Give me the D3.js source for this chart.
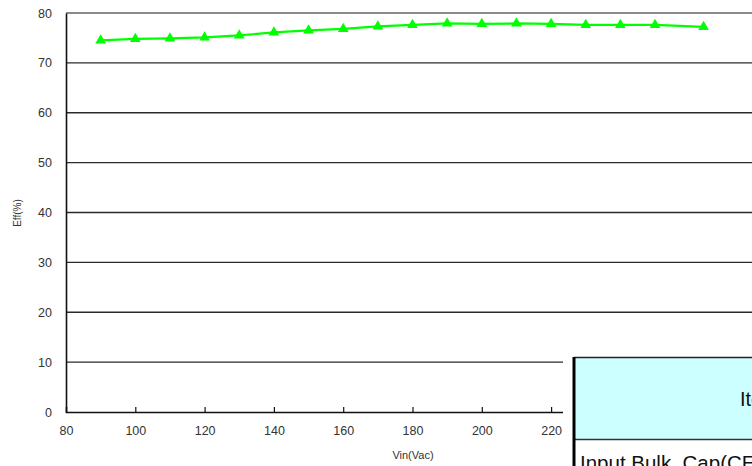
<!DOCTYPE html>
<html>
<head>
<meta charset="utf-8">
<script src="https://cdn.jsdelivr.net/npm/d3@7"></script>
<style>
  body { margin: 0; background: #fff; }
  svg { display: block; font-family: "Liberation Sans", Arial, sans-serif; }
</style>
</head>
<body>
<svg id="chart" width="752" height="466"></svg>
<script>
// input voltage (Vac) and efficiency (%)
var vin = [90, 100, 110, 120, 130, 140, 150, 160, 170, 180, 190, 200, 210, 220, 230, 240, 250, 264];
var eff = [74.5, 74.8, 74.9, 75.1, 75.5, 76.1, 76.5, 76.8, 77.3, 77.6, 77.9, 77.8, 77.9, 77.8, 77.6, 77.6, 77.6, 77.2];
var xTicks = [80, 100, 120, 140, 160, 180, 200, 220, 240, 260];
var yTicks = [0, 10, 20, 30, 40, 50, 60, 70, 80];
var tableHeader = 'Item';
var tableRow = 'Input Bulk  Cap(CE)';

var svg = d3.select("#chart");

var x = d3.scaleLinear().domain([80, 280]).range([66, 759]);
var y = d3.scaleLinear().domain([0, 80]).range([412, 13]);

// gridlines
svg.append("g")
    .selectAll("line")
    .data(yTicks.filter(function(d) { return d > 0 && d < 80; }))
    .enter().append("line")
    .attr("x1", 66).attr("x2", 752)
    .attr("y1", function(d) { return y(d); })
    .attr("y2", function(d) { return y(d); })
    .attr("stroke", "#2a2a2a").attr("stroke-width", 1.4);

// top border of plot
svg.append("line")
    .attr("x1", 66).attr("x2", 752)
    .attr("y1", y(80)).attr("y2", y(80))
    .attr("stroke", "#8a8a8a").attr("stroke-width", 2);

// x axis
var xAxis = d3.axisBottom(x).tickValues(xTicks).tickSize(-5).tickPadding(14);
var gx = svg.append("g").attr("transform", "translate(0," + y(0) + ")").call(xAxis);
gx.select(".domain").attr("stroke", "#111").attr("stroke-width", 1.6);
gx.selectAll(".tick line").attr("stroke", "#111").attr("stroke-width", 1.2)
    .filter(function(d) { return d === 80; }).remove();
gx.selectAll(".tick text").attr("font-size", 12.5).attr("fill", "#333")
    .attr("font-family", "Liberation Sans, Arial, sans-serif");

// y axis
var yAxis = d3.axisLeft(y).tickValues(yTicks).tickSize(0).tickPadding(14);
var gy = svg.append("g").attr("transform", "translate(66,0)").call(yAxis);
gy.select(".domain").attr("stroke", "#111").attr("stroke-width", 1.6);
gy.selectAll(".tick text").attr("font-size", 12.5).attr("fill", "#333")
    .attr("font-family", "Liberation Sans, Arial, sans-serif");

// axis titles
svg.append("text")
    .attr("x", 413).attr("y", 459)
    .attr("text-anchor", "middle")
    .attr("font-size", 11).attr("fill", "#333")
    .text("Vin(Vac)");

svg.append("text")
    .attr("transform", "translate(21,213) rotate(-90)")
    .attr("text-anchor", "middle")
    .attr("font-size", 10).attr("fill", "#333")
    .text("Eff(%)");

// efficiency line
var pts = vin.map(function(v, i) { return [v, eff[i]]; });
var line = d3.line()
    .x(function(d) { return x(d[0]); })
    .y(function(d) { return y(d[1]); });

svg.append("path")
    .datum(pts)
    .attr("fill", "none")
    .attr("stroke", "#00ff00")
    .attr("stroke-width", 2.2)
    .attr("d", line);

svg.append("g")
    .selectAll("path")
    .data(pts)
    .enter().append("path")
    .attr("transform", function(d) { return "translate(" + x(d[0]) + "," + y(d[1]) + ")"; })
    .attr("d", d3.symbol().type(d3.symbolTriangle).size(50))
    .attr("fill", "#00ff00");

// table overlapping the lower right corner
svg.append("rect")
    .attr("x", 563).attr("y", 350).attr("width", 200).attr("height", 120)
    .attr("fill", "#fff");
svg.append("rect")
    .attr("x", 574).attr("y", 357).attr("width", 190).attr("height", 82)
    .attr("fill", "#ccffff");
svg.append("line")
    .attr("x1", 574).attr("x2", 752).attr("y1", 357.5).attr("y2", 357.5)
    .attr("stroke", "#222").attr("stroke-width", 1.5);
svg.append("line")
    .attr("x1", 574).attr("x2", 752).attr("y1", 439.5).attr("y2", 439.5)
    .attr("stroke", "#333").attr("stroke-width", 1.5);
svg.append("line")
    .attr("x1", 574).attr("x2", 574).attr("y1", 357).attr("y2", 466)
    .attr("stroke", "#000").attr("stroke-width", 3);
svg.append("text")
    .attr("x", 740).attr("y", 406)
    .attr("font-size", 20).attr("fill", "#111")
    .text(tableHeader);
svg.append("text")
    .attr("x", 580).attr("y", 470)
    .attr("font-size", 20.5).attr("fill", "#111")
    .style("white-space", "pre")
    .text(tableRow);
</script>
</body>
</html>
